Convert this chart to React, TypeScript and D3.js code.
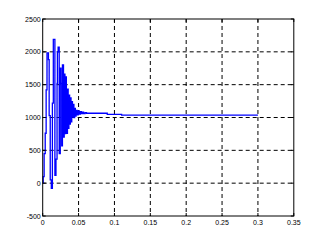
import React from "react";
import * as d3 from "d3";

const times = [
  0.0, 0.0007, 0.002, 0.0035, 0.0048, 0.006, 0.0075, 0.008, 0.009, 0.0105,
  0.012, 0.0135, 0.0148, 0.016, 0.017, 0.0185, 0.02, 0.0205, 0.0215, 0.023,
  0.0245, 0.0255, 0.0265, 0.0275, 0.029, 0.03, 0.031, 0.032, 0.033, 0.0345,
  0.0355, 0.0365, 0.0375, 0.0385, 0.0395, 0.0405, 0.0415, 0.0425, 0.0435, 0.0445,
  0.0455, 0.0465, 0.048, 0.0495, 0.051, 0.0525, 0.054, 0.0555, 0.057, 0.059,
  0.061, 0.09, 0.11, 0.3,
];
const values = [
  0, 100, 450, 760, 1420, 1985, 1985, 1880, 1030, 50,
  -80, 1220, 2190, 2190, 120, 365, 1520, 2000, 2070, 450,
  1750, 1520, 570, 1800, 700, 1660, 755, 1620, 760, 1430,
  835, 1340, 900, 1300, 935, 1240, 1010, 1200, 1000, 1140,
  1020, 1110, 1040, 1100, 1050, 1090, 1060, 1080, 1060, 1075,
  1065, 1048, 1035, 1035,
];
const xTicks = [0, 0.05, 0.1, 0.15, 0.2, 0.25, 0.3, 0.35];
const xTickLabels = ["0", "0.05", "0.1", "0.15", "0.2", "0.25", "0.3", "0.35"];
const yTicks = [-500, 0, 500, 1000, 1500, 2000, 2500];

export default function App() {
  const W = 325, H = 244;
  const left = 42.7, right = 293.8, top = 19, bottom = 216;
  const x = d3.scaleLinear().domain([0, 0.35]).range([left, right]);
  const y = d3.scaleLinear().domain([-500, 2500]).range([bottom, top]);
  const pts: [number, number][] = times.map((t, i) => [t, values[i]]);
  const line = d3
    .line<[number, number]>()
    .x((d) => x(d[0]))
    .y((d) => y(d[1]))
    .curve(d3.curveStepAfter);
  const font = "Liberation Sans, Arial, sans-serif";
  return (
    <svg
      width={W}
      height={H}
      style={{ position: "absolute", left: 0, top: 0, background: "#fff" }}
    >
      <rect x={0} y={0} width={W} height={H} fill="#fff" />
      {xTicks.slice(1, -1).map((t) => (
        <line
          key={"gx" + t}
          x1={x(t)}
          x2={x(t)}
          y1={top}
          y2={bottom}
          stroke="#000"
          strokeWidth={1}
          strokeDasharray="4,3"
        />
      ))}
      {yTicks.slice(1, -1).map((t) => (
        <line
          key={"gy" + t}
          x1={left}
          x2={right}
          y1={y(t)}
          y2={y(t)}
          stroke="#000"
          strokeWidth={1}
          strokeDasharray="4,3"
        />
      ))}
      <path d={line(pts) || ""} fill="none" stroke="#0000ff" strokeWidth={1.3} />
      <rect
        x={left}
        y={top}
        width={right - left}
        height={bottom - top}
        fill="none"
        stroke="#000"
        strokeWidth={1}
      />
      {yTicks.map((t) => (
        <g key={"ty" + t}>
          <line x1={left} x2={left + 3} y1={y(t)} y2={y(t)} stroke="#000" />
          <line x1={right} x2={right - 3} y1={y(t)} y2={y(t)} stroke="#000" />
          <text
            x={left - 2}
            y={y(t) + 2.5}
            textAnchor="end"
            fontSize={7}
            fontFamily={font}
            fill="#000"
          >
            {t}
          </text>
        </g>
      ))}
      {xTicks.map((t, i) => (
        <g key={"tx" + t}>
          <line x1={x(t)} x2={x(t)} y1={bottom} y2={bottom - 3} stroke="#000" />
          <line x1={x(t)} x2={x(t)} y1={top} y2={top + 3} stroke="#000" />
          <text
            x={x(t)}
            y={bottom + 9}
            textAnchor="middle"
            fontSize={7}
            fontFamily={font}
            fill="#000"
          >
            {xTickLabels[i]}
          </text>
        </g>
      ))}
    </svg>
  );
}
